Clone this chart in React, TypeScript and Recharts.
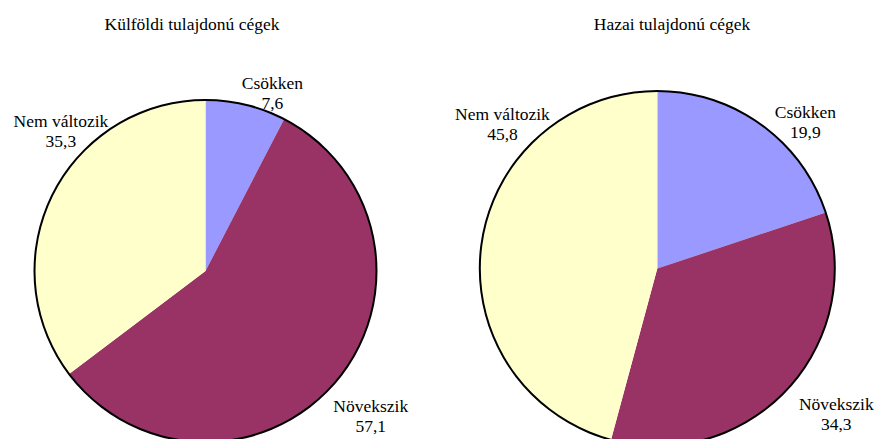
import React from 'react';
import { PieChart, Pie, Cell } from 'recharts';

const categories = ['Csökken', 'Növekszik', 'Nem változik'];
const foreignValues = [7.6, 57.1, 35.3];
const domesticValues = [19.9, 34.3, 45.8];
const titles = ['Külföldi tulajdonú cégek', 'Hazai tulajdonú cégek'];

const colors = ['#9999FF', '#993366', '#FFFFCC'];
const FONT = "'Liberation Serif', serif";

// label placement (angle from 12 o'clock clockwise, distance from centre) per slice
const foreignLabelPos = [
  { angle: 20.6, dist: 190 },
  { angle: 131.3, dist: 220 },
  { angle: -46, dist: 201 },
];
const domesticLabelPos = [
  { angle: 45.4, dist: 208 },
  { angle: 129.2, dist: 231 },
  { angle: -46.9, dist: 212 },
];

const makeLabel = (pos: { angle: number; dist: number }[]) => (props: any) => {
  const { cx, cy, index, payload } = props;
  const p = pos[index];
  const rad = (p.angle * Math.PI) / 180;
  const x = cx + p.dist * Math.sin(rad);
  const y = cy - p.dist * Math.cos(rad);
  return (
    <text x={x} y={y} textAnchor="middle" style={{ fontFamily: FONT, fontSize: 17.5 }} fill="#000">
      <tspan x={x} dy={-4}>{payload.name}</tspan>
      <tspan x={x} dy={20}>{String(payload.value).replace('.', ',')}</tspan>
    </text>
  );
};

const build = (vals: number[]) => categories.map((name, i) => ({ name, value: vals[i] }));

const OnePie: React.FC<{
  data: { name: string; value: number }[];
  width: number;
  cx: number;
  cy: number;
  r: number;
  labelPos: { angle: number; dist: number }[];
}> = ({ data, width, cx, cy, r, labelPos }) => (
  <PieChart width={width} height={439} margin={{ top: 0, right: 0, bottom: 0, left: 0 }}>
    <Pie
      data={data}
      dataKey="value"
      nameKey="name"
      cx={cx}
      cy={cy}
      outerRadius={r}
      startAngle={90}
      endAngle={-270}
      stroke="none"
      label={makeLabel(labelPos)}
      labelLine={false}
      isAnimationActive={false}
    >
      {data.map((d, i) => (
        <Cell key={d.name} fill={colors[i]} />
      ))}
    </Pie>
    <Pie
      data={[{ name: 'outline', value: 1 }]}
      dataKey="value"
      cx={cx}
      cy={cy}
      innerRadius={r - 1}
      outerRadius={r + 1}
      startAngle={90}
      endAngle={-270}
      fill="#000"
      stroke="none"
      isAnimationActive={false}
    />
  </PieChart>
);

const titleStyle: React.CSSProperties = {
  position: 'absolute',
  top: 14,
  width: 240,
  textAlign: 'center',
  fontFamily: FONT,
  fontSize: 17.5,
  lineHeight: '20px',
};

export default function App() {
  return (
    <div style={{ position: 'absolute', left: 0, top: 0, width: 877, height: 439, background: '#fff', fontFamily: FONT }}>
      <div style={{ position: 'absolute', left: 0, top: 0 }}>
        <OnePie data={build(foreignValues)} width={440} cx={205.5} cy={271} r={171} labelPos={foreignLabelPos} />
      </div>
      <div style={{ position: 'absolute', left: 440, top: 0 }}>
        <OnePie data={build(domesticValues)} width={437} cx={217.3} cy={268.5} r={177.5} labelPos={domesticLabelPos} />
      </div>
      <div style={{ ...titleStyle, left: 72 }}>{titles[0]}</div>
      <div style={{ ...titleStyle, left: 552 }}>{titles[1]}</div>
    </div>
  );
}
